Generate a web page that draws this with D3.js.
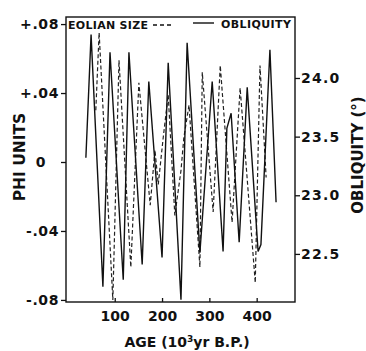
<!DOCTYPE html>
<html>
<head>
<meta charset="utf-8">
<script src="https://cdn.jsdelivr.net/npm/d3@7"></script>
<style>
  body { margin: 0; background: #fff; }
  text { font-family: "DejaVu Sans", sans-serif; fill: #111; font-weight: bold; }
</style>
</head>
<body>
<div id="chart"></div>
<script>
// obliquity (solid), age in 10^3 yr B.P., degrees
var oblAge = [39, 50, 75, 90, 118, 130, 158, 172, 200, 213, 240, 253, 280, 306, 329, 337, 346, 363, 380, 403, 409, 428, 441];
var oblVal = [23.32, 24.37, 22.22, 24.22, 22.28, 24.22, 22.41, 23.97, 22.47, 24.13, 22.11, 24.30, 22.51, 23.97, 22.52, 23.57, 23.70, 22.60, 23.92, 22.52, 22.58, 24.24, 22.94];

// eolian grain size (dashed), phi units
var eolAge = [60, 67, 96, 109, 134, 151, 175, 185, 192, 202, 213, 227, 240, 246, 257, 280, 285, 308, 323, 348, 365, 397, 407, 420];
var eolVal = [0.030, 0.075, -0.080, 0.059, -0.061, 0.046, -0.025, 0.007, -0.013, 0.013, 0.039, -0.031, -0.005, 0.014, 0.033, -0.061, 0.052, -0.029, 0.056, -0.035, 0.043, -0.070, 0.056, -0.009];

var xTicks = [100, 200, 300, 400];
var phiTicks = [0.08, 0.04, 0, -0.04, -0.08];
var phiLabels = ["+.08", "+.04", "0", "-.04", "-.08"];
var oblTicks = [24.0, 23.5, 23.0, 22.5];

var width = 366, height = 351;
var margin = {top: 17, right: 71, bottom: 49, left: 66};

var svg = d3.select("#chart")
            .append("svg")
              .attr("width", width)
              .attr("height", height);

var x = d3.scaleLinear().domain([-3, 481]).range([margin.left, width - margin.right]);
var yPhi = d3.scaleLinear().domain([-0.0812, 0.0841]).range([height - margin.bottom, margin.top]);
var yObl = d3.scaleLinear().domain([22.09, 24.52]).range([height - margin.bottom, margin.top]);

var oblData = oblAge.map((a, i) => ({age: a, v: oblVal[i]}));
var eolData = eolAge.map((a, i) => ({age: a, v: eolVal[i]}));

// frame
svg.append("rect")
    .attr("x", margin.left)
    .attr("y", margin.top)
    .attr("width", width - margin.right - margin.left)
    .attr("height", height - margin.bottom - margin.top)
    .style("fill", "none")
    .style("stroke", "#111")
    .style("stroke-width", 1.4);

// left axis
var leftAxis = svg.append("g")
    .attr("transform", "translate(" + margin.left + ",0)")
    .call(d3.axisLeft(yPhi).tickValues(phiTicks).tickSize(5).tickPadding(2)
          .tickFormat((d, i) => phiLabels[i]));
leftAxis.select(".domain").remove();
leftAxis.selectAll("text")
    .style("font-size", "14px")
    .style("letter-spacing", "0.6px")
    .style("font-family", "DejaVu Sans, sans-serif")
    .style("font-weight", "bold");
leftAxis.selectAll(".tick text").each(function(d, i) {
    if (i === 2) d3.select(this).attr("x", -20);
});

// right axis
var rightAxis = svg.append("g")
    .attr("transform", "translate(" + (width - margin.right) + ",0)")
    .call(d3.axisRight(yObl).tickValues(oblTicks).tickSize(5).tickPadding(1)
          .tickFormat(d3.format(".1f")));
rightAxis.select(".domain").remove();
rightAxis.selectAll("text")
    .style("font-size", "14px")
    .style("letter-spacing", "1.2px")
    .style("font-family", "DejaVu Sans, sans-serif")
    .style("font-weight", "bold");

// bottom axis, ticks point inward
var bottomAxis = svg.append("g")
    .attr("transform", "translate(0," + (height - margin.bottom) + ")")
    .call(d3.axisBottom(x).tickValues(xTicks).tickSizeInner(-4).tickSizeOuter(0).tickPadding(9));
bottomAxis.select(".domain").remove();
bottomAxis.selectAll("text")
    .style("font-size", "14px")
    .style("letter-spacing", "0px")
    .style("font-family", "DejaVu Sans, sans-serif")
    .style("font-weight", "bold");

svg.selectAll(".tick line").style("stroke", "#111").style("stroke-width", 1.3);

// series
var lineObl = d3.line().x(d => x(d.age)).y(d => yObl(d.v));
var lineEol = d3.line().x(d => x(d.age)).y(d => yPhi(d.v));

svg.append("path")
    .datum(eolData)
    .attr("d", lineEol)
    .style("fill", "none")
    .style("stroke", "#222")
    .style("stroke-width", 1.2)
    .style("stroke-dasharray", "4,2.5");

svg.append("path")
    .datum(oblData)
    .attr("d", lineObl)
    .style("fill", "none")
    .style("stroke", "#111")
    .style("stroke-width", 1.4);

// legend
svg.append("text")
    .attr("x", 68)
    .attr("y", 29)
    .style("font-size", "11px")
    .style("letter-spacing", "0.3px")
    .text("EOLIAN SIZE");
svg.append("line")
    .attr("x1", 153).attr("x2", 172)
    .attr("y1", 25).attr("y2", 25)
    .style("stroke", "#111")
    .style("stroke-width", 1.4)
    .style("stroke-dasharray", "4,3");
svg.append("line")
    .attr("x1", 193).attr("x2", 214)
    .attr("y1", 23).attr("y2", 23)
    .style("stroke", "#111")
    .style("stroke-width", 1.4);
svg.append("text")
    .attr("x", 221)
    .attr("y", 28)
    .style("font-size", "11px")
    .style("letter-spacing", "0.4px")
    .text("OBLIQUITY");

// axis titles
var xt = svg.append("text")
    .attr("x", 187)
    .attr("y", 347)
    .attr("text-anchor", "middle")
    .style("font-size", "14px");
xt.append("tspan").text("AGE (10");
xt.append("tspan").attr("dy", -5).style("font-size", "9px").text("3");
xt.append("tspan").attr("dy", 5).text("yr B.P.)");

svg.append("text")
    .attr("transform", "translate(25,157) rotate(-90)")
    .attr("text-anchor", "middle")
    .style("font-size", "15.5px")
    .text("PHI UNITS");

svg.append("text")
    .attr("transform", "translate(363,155) rotate(-90)")
    .attr("text-anchor", "middle")
    .style("font-size", "15px")
    .text("OBLIQUITY (°)");
</script>
</body>
</html>
